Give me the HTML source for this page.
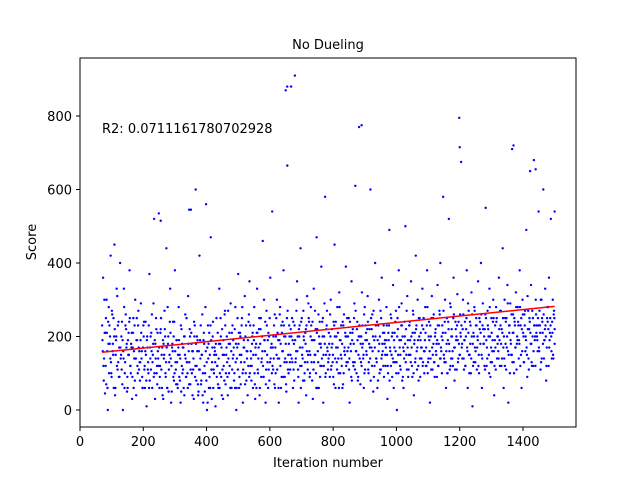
<!DOCTYPE html>
<html><head><meta charset="utf-8"><style>
body{margin:0;background:#fff;}
svg text{font-family:"DejaVu Sans","Liberation Sans",sans-serif;fill:#000;}
</style></head><body>
<svg id="chart" width="640" height="480" xmlns="http://www.w3.org/2000/svg">
<rect width="640" height="480" fill="#fff"/>
<text x="328" y="49" font-size="13" text-anchor="middle">No Dueling</text>
<g id="marks"></g>
<rect x="80" y="58" width="496" height="369" fill="none" stroke="#000" stroke-width="1"/>
<g id="axes"></g>
<text x="102" y="133" font-size="13">R2: 0.0711161780702928</text>
<text x="328" y="467" font-size="13" text-anchor="middle">Iteration number</text>
<text x="36" y="242" font-size="13" text-anchor="middle" transform="rotate(-90 36 242)">Score</text>
</svg>
<script>
const scores=[230,360,140,45,250,210,0,280,180,420,90,160,250,450,60,200,310,130,170,400,
150,240,0,330,100,260,180,60,210,380,120,170,90,250,140,300,40,190,230,110,
80,290,160,60,200,120,240,10,170,100,370,140,210,60,180,520,30,250,120,160,
535,90,220,150,40,180,270,100,440,60,200,130,330,20,170,240,80,380,110,190,
60,280,150,20,220,100,170,40,260,90,130,310,70,200,545,100,160,30,230,600,
120,190,50,420,140,80,260,20,180,100,560,0,230,60,150,470,30,200,110,170,
10,250,120,60,330,180,90,220,30,150,270,100,200,40,180,120,290,60,230,150,
100,280,0,170,370,60,210,130,250,20,190,310,100,160,40,240,350,120,80,200,
150,280,30,180,330,100,220,60,250,140,460,90,190,20,270,130,210,80,360,170,
540,110,230,60,200,300,140,20,260,180,90,240,380,130,200,50,665,150,230,110,
880,250,60,180,910,140,300,200,20,230,440,120,170,270,80,210,40,310,150,240,
100,280,190,30,330,150,220,470,60,260,180,120,390,240,20,200,580,150,270,110,
210,90,300,170,130,240,450,60,200,280,140,320,100,230,180,70,260,150,390,200,
130,250,20,180,350,210,120,290,610,160,240,90,770,200,130,320,180,60,280,230,
150,310,100,220,600,170,260,50,190,400,140,240,80,300,200,110,360,160,230,180,
120,280,30,210,490,160,250,90,340,190,130,270,0,220,380,170,110,290,200,60,
240,500,150,310,90,230,190,350,120,270,40,210,420,160,300,80,250,190,140,330,
220,100,280,170,380,130,240,20,200,310,150,260,90,220,180,340,120,270,400,160,
230,580,140,300,60,250,190,520,110,280,220,160,360,80,240,200,315,140,795,260,
675,180,300,110,240,200,380,60,270,150,230,320,10,210,280,130,250,170,350,100,
240,400,60,290,180,220,550,120,270,200,330,90,250,160,300,40,230,280,140,200,
360,120,270,220,440,60,300,180,250,340,20,210,290,150,710,260,100,230,320,180,
280,140,380,230,60,300,200,260,160,490,90,270,220,650,340,120,250,680,190,300,
230,160,540,270,110,300,240,600,190,330,80,250,280,360,210,520,140,300,260,540];
const scoresB=[190,120,300,210,70,160,240,100,200,130,270,180,60,220,150,330,110,240,90,170,
200,70,160,280,130,220,50,190,150,250,100,210,170,60,230,140,190,120,270,160,
130,210,90,170,240,60,150,190,110,230,80,200,160,130,290,100,180,220,70,140,
170,120,250,60,190,140,220,90,170,280,50,150,210,120,180,90,240,160,70,130,
150,190,80,230,120,170,60,200,140,250,100,180,130,70,210,160,110,240,90,180,
200,70,160,110,230,150,40,190,120,280,80,170,140,210,60,190,130,240,100,160,
180,90,210,140,60,250,170,110,190,80,230,150,130,270,100,180,60,210,140,170,
220,130,60,250,180,90,200,150,280,110,170,70,230,140,190,260,100,160,120,210,
230,100,170,60,210,140,250,180,90,200,120,300,160,70,230,190,110,250,140,180,
120,200,70,170,250,110,190,140,280,60,210,160,230,90,180,130,270,100,200,150,
200,130,240,80,190,160,350,110,220,170,60,250,140,200,100,180,230,130,290,160,
150,230,80,190,130,270,100,210,160,60,240,180,120,200,150,290,90,220,170,130,
180,260,110,220,150,70,200,240,130,170,100,280,190,140,60,230,160,210,120,250,
200,110,240,160,80,220,180,130,270,100,190,150,230,70,200,170,140,260,110,210,
190,240,130,170,80,220,160,270,120,200,140,60,230,180,110,250,150,210,90,190,
170,230,120,190,80,260,150,210,130,170,240,100,200,150,280,120,190,230,90,160,
200,130,270,170,110,230,150,200,90,260,180,130,220,110,190,250,140,210,170,120,
250,160,210,120,280,140,190,230,110,170,250,130,200,160,90,230,180,260,140,200,
190,270,130,210,160,100,240,180,290,140,200,120,260,170,220,110,190,240,150,210,
230,140,260,190,120,220,170,290,150,240,100,200,180,130,270,160,230,200,120,250,
180,260,140,220,200,110,250,170,230,150,280,130,210,190,250,120,170,240,200,160,
220,270,180,140,250,200,120,240,170,290,150,230,190,260,130,210,250,170,280,200,
240,190,280,150,220,260,130,230,200,170,310,140,250,210,180,270,120,230,200,260,
200,250,170,230,300,140,210,260,190,230,120,280,220,170,250,200,240,150,270,220];
const scoresC=[160,80,210,120,300,60,180,230,140,100,260,150,200,40,190,120,230,90,170,140,
110,190,140,60,230,170,90,150,240,120,180,30,210,160,80,140,250,100,170,130,
190,140,60,230,110,160,80,200,130,60,170,110,260,150,90,190,140,100,210,120,
60,210,110,170,30,150,200,130,60,180,110,240,140,50,160,200,100,130,190,70,
170,90,140,50,180,110,200,150,90,130,60,160,220,110,180,40,140,200,120,80,
160,40,110,190,70,150,100,210,50,160,130,20,180,90,230,110,170,60,150,130,
150,120,70,180,100,200,40,150,120,260,70,170,90,140,210,60,160,110,190,80,
60,180,140,110,210,150,70,230,100,170,130,200,80,160,120,90,230,140,180,60,
190,70,150,210,110,170,40,220,130,160,90,190,240,110,150,60,200,130,170,100,
170,140,260,100,150,210,60,190,120,230,160,90,200,140,70,250,110,180,130,220,
140,190,110,230,130,270,160,90,200,120,240,150,80,190,130,220,160,110,250,90,
200,130,240,110,190,150,60,220,130,200,90,170,140,250,120,180,100,230,160,140,
150,200,120,180,90,230,140,170,110,210,60,190,150,120,240,100,170,200,130,160,
170,140,210,90,190,130,250,110,160,220,80,200,140,180,120,230,150,100,190,160,
220,110,180,140,250,120,200,90,170,230,130,190,160,100,270,140,180,120,210,150,
190,150,100,230,170,120,200,140,60,210,160,130,250,100,190,150,230,80,170,140,
180,220,110,190,150,240,130,170,210,100,190,140,230,170,120,200,90,170,230,130,
160,190,120,230,100,200,160,140,250,110,180,130,210,150,190,120,230,140,170,100,
210,150,240,130,180,100,220,160,120,200,140,250,170,110,190,230,130,180,150,200,
170,220,140,190,120,250,160,210,100,180,140,260,120,200,170,230,110,190,150,220,
210,150,230,180,120,260,190,140,220,100,200,170,130,240,160,190,110,250,180,140,
190,230,120,210,170,140,250,110,200,160,230,100,180,150,210,130,240,170,110,190,
230,180,120,250,160,210,130,270,190,150,220,110,240,180,130,200,160,230,120,210,
190,230,160,210,130,250,180,140,220,200,170,240,120,190,230,160,210,140,250,180];
const extraIters=[650,655,890,1200,1370,1440,345,255];
const extraScores=[870,880,775,715,720,655,545,515];
const xTicks=[0,200,400,600,800,1000,1200,1400];
const yTicks=[0,200,400,600,800];
const fitX=[70,1500];
const fitY=[157,282];
const firstIter=70, lastIter=1500;

const X=v=>80+v*443/1400;
const Y=v=>410-v*294/800;
const NS="http://www.w3.org/2000/svg";
const marks=document.getElementById('marks');
const axes=document.getElementById('axes');
function dot(ix,s){
  const c=document.createElementNS(NS,'circle');
  c.setAttribute('cx',X(ix));c.setAttribute('cy',Y(s));c.setAttribute('r',1.2);c.setAttribute('fill','#0000ff');
  
  
  marks.appendChild(c);
}
function drawSeries(arr,offset){
  const step=(lastIter-firstIter)/(arr.length-1);
  arr.forEach((s,i)=>dot(Math.min(lastIter,firstIter+i*step+offset*step),s));
}
drawSeries(scores,0);
drawSeries(scoresB,1/3);
drawSeries(scoresC,2/3);
extraScores.forEach((s,i)=>dot(extraIters[i],s));
const ln=document.createElementNS(NS,'line');
ln.setAttribute('x1',X(fitX[0]));ln.setAttribute('y1',Y(fitY[0]));
ln.setAttribute('x2',X(fitX[1]));ln.setAttribute('y2',Y(fitY[1]));
ln.setAttribute('stroke','#ff0000');ln.setAttribute('stroke-width','1.5');


marks.appendChild(ln);
xTicks.forEach(t=>{
  const l=document.createElementNS(NS,'line');
  l.setAttribute('x1',X(t));l.setAttribute('x2',X(t));l.setAttribute('y1',427);l.setAttribute('y2',431);l.setAttribute('stroke','#000');
  
  
  axes.appendChild(l);
  const tx=document.createElementNS(NS,'text');
  tx.setAttribute('x',X(t));tx.setAttribute('y',446);tx.setAttribute('font-size','13');tx.setAttribute('text-anchor','middle');
  tx.textContent=t;
  
  
  axes.appendChild(tx);
});
yTicks.forEach(t=>{
  const l=document.createElementNS(NS,'line');
  l.setAttribute('x1',76);l.setAttribute('x2',80);l.setAttribute('y1',Y(t));l.setAttribute('y2',Y(t));l.setAttribute('stroke','#000');
  
  
  axes.appendChild(l);
  const tx=document.createElementNS(NS,'text');
  tx.setAttribute('x',72);tx.setAttribute('y',Y(t)+5);tx.setAttribute('font-size','13');tx.setAttribute('text-anchor','end');
  tx.textContent=t;
  
  
  axes.appendChild(tx);
});
</script>
</body></html>
